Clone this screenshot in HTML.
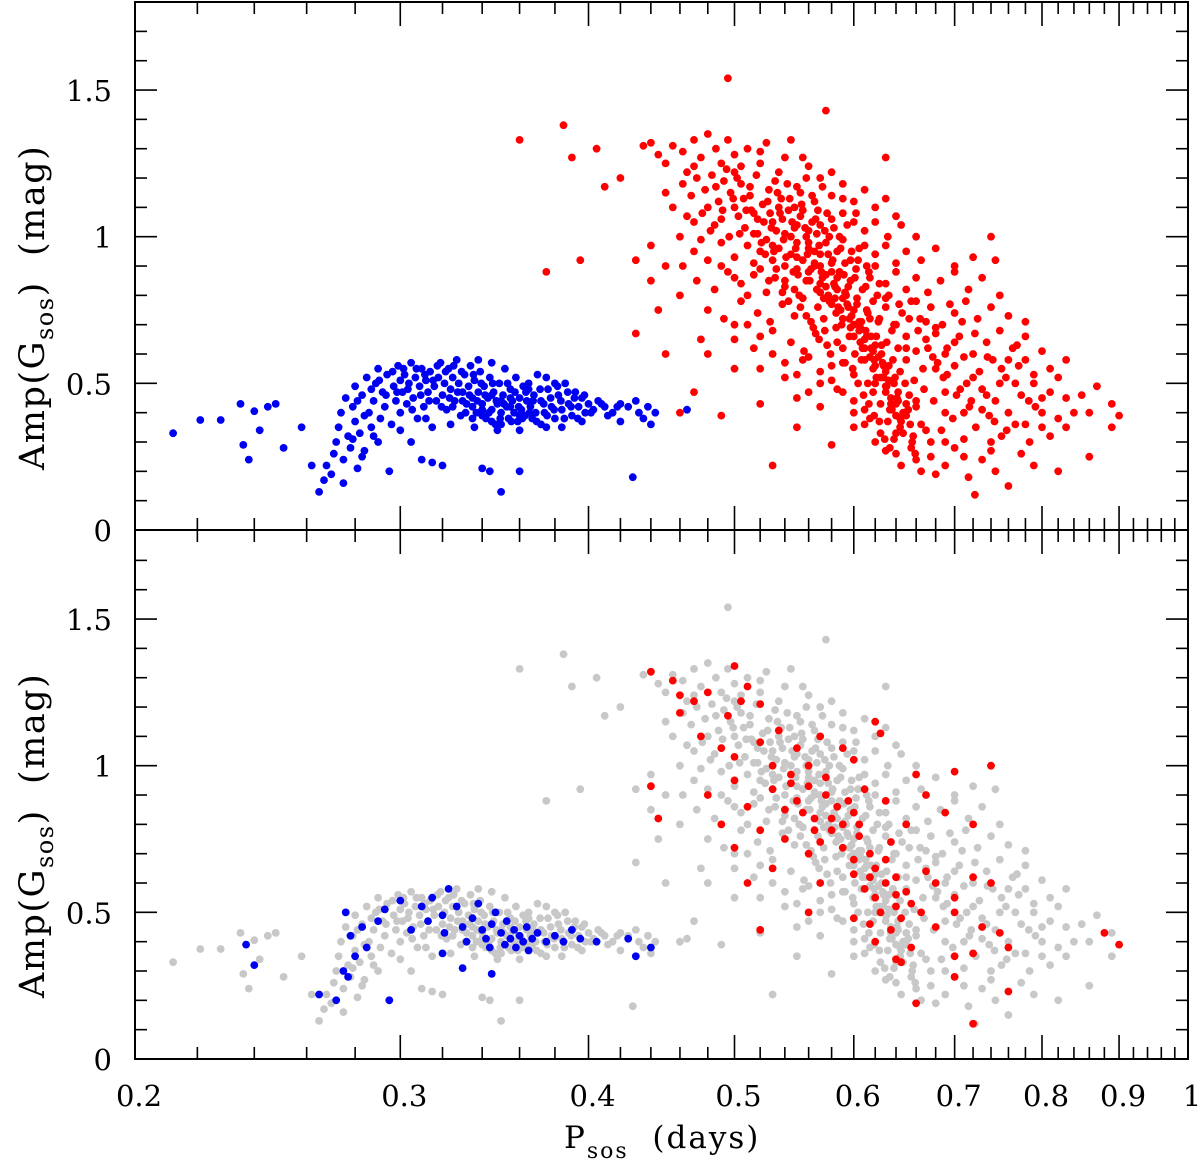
<!DOCTYPE html>
<html><head><meta charset="utf-8"><style>
html,body{margin:0;padding:0;background:#fff;}
svg{display:block;}
text{font-family:"DejaVu Serif","Liberation Serif",serif;fill:#000;}
</style></head><body>
<svg id="chart" width="1200" height="1166" viewBox="0 0 1200 1166" xmlns="http://www.w3.org/2000/svg">
<g id="top-panel"></g>
<g id="bottom-panel"></g>
<text x="564" y="1148" font-size="31" letter-spacing="2">P<tspan font-size="22" dy="10">sos</tspan><tspan dy="-10" xml:space="preserve">  (days)</tspan></text>
<text transform="translate(44,470) rotate(-90)" font-size="35" letter-spacing="1.5">Amp(G<tspan font-size="24" dy="9">sos</tspan><tspan dy="-9" xml:space="preserve">)  (mag)</tspan></text>
<text transform="translate(44,998) rotate(-90)" font-size="35" letter-spacing="1.5">Amp(G<tspan font-size="24" dy="9">sos</tspan><tspan dy="-9" xml:space="preserve">)  (mag)</tspan></text>
</svg>
<script>
const xMajorTicks = [0.2,0.3,0.4,0.5,0.6,0.7,0.8,0.9,1.0];
const xTickLabels = ["0.2","0.3","0.4","0.5","0.6","0.7","0.8","0.9","1"];
const yMajorTicks = [0,0.5,1,1.5];
const yTickLabels = ["0","0.5","1","1.5"];

const redTop = [[0.455,1.31],[0.462,1.29],[0.47,1.33],[0.475,1.27],[0.48,1.35],[0.486,1.3],[0.495,1.33],[0.5,1.28],[0.51,1.3],[0.525,1.32],[0.545,1.33],[0.555,1.27],[0.47,1.24],[0.465,1.22],[0.49,1.25],[0.505,1.24],[0.52,1.25],[0.535,1.22],[0.56,1.24],[0.58,1.22],[0.44,1.32],[0.445,1.28],[0.45,1.25],[0.435,1.31],
[0.462,1.18],[0.468,1.14],[0.472,1.2],[0.478,1.16],[0.483,1.21],[0.488,1.12],[0.492,1.19],[0.497,1.15],[0.502,1.2],[0.507,1.13],[0.512,1.17],[0.517,1.21],[0.522,1.11],[0.527,1.16],[0.532,1.19],[0.537,1.13],[0.542,1.18],[0.548,1.1],[0.553,1.15],[0.558,1.2],[0.565,1.12],[0.572,1.17],[0.58,1.14],[0.59,1.18],[0.6,1.12],[0.61,1.16],[0.62,1.1],[0.45,1.15],[0.455,1.1],[0.48,1.1],[0.5,1.1],[0.515,1.08],[0.63,1.13],[0.64,1.07],
[0.47,1.05],[0.476,1.08],[0.482,1.02],[0.49,1.06],[0.496,1.0],[0.503,1.07],[0.508,1.03],[0.513,1.09],[0.518,1.01],[0.523,1.05],[0.528,1.08],[0.533,1.02],[0.538,1.06],[0.543,1.09],[0.548,1.03],[0.553,1.07],[0.558,1.0],[0.563,1.05],[0.568,1.09],[0.574,1.02],[0.58,1.06],[0.587,1.0],[0.594,1.04],[0.602,1.08],[0.61,1.02],[0.62,1.05],[0.632,1.0],[0.645,1.04],[0.66,1.0],[0.46,1.0],[0.535,1.1],[0.545,1.0],[0.57,1.04],[0.59,1.08],
[0.47,0.95],[0.48,0.92],[0.49,0.98],[0.5,0.93],[0.51,0.97],[0.515,0.91],[0.52,0.95],[0.525,0.99],[0.53,0.92],[0.535,0.96],[0.54,0.9],[0.545,0.94],[0.55,0.98],[0.555,0.92],[0.56,0.96],[0.565,0.9],[0.57,0.94],[0.575,0.98],[0.58,0.91],[0.585,0.95],[0.59,0.99],[0.597,0.92],[0.605,0.96],[0.612,0.9],[0.62,0.94],[0.63,0.97],[0.64,0.91],[0.65,0.95],[0.665,0.92],[0.68,0.96],[0.7,0.9],[0.72,0.93],[0.745,0.92],[0.462,0.9],
[0.472,0.85],[0.485,0.82],[0.495,0.88],[0.505,0.84],[0.515,0.87],[0.525,0.81],[0.532,0.86],[0.54,0.83],[0.547,0.88],[0.552,0.8],[0.558,0.85],[0.562,0.89],[0.567,0.82],[0.572,0.86],[0.577,0.8],[0.582,0.84],[0.587,0.88],[0.592,0.81],[0.597,0.85],[0.602,0.89],[0.608,0.82],[0.615,0.86],[0.622,0.8],[0.63,0.84],[0.64,0.88],[0.65,0.82],[0.66,0.86],[0.672,0.81],[0.685,0.85],[0.7,0.88],[0.715,0.82],[0.73,0.86],[0.75,0.8],[0.57,0.84],[0.585,0.86],[0.595,0.83],
[0.48,0.75],[0.492,0.72],[0.505,0.78],[0.518,0.74],[0.528,0.71],[0.538,0.77],[0.548,0.73],[0.555,0.79],[0.562,0.71],[0.568,0.76],[0.573,0.72],[0.578,0.78],[0.584,0.74],[0.589,0.7],[0.594,0.77],[0.598,0.73],[0.603,0.79],[0.607,0.71],[0.612,0.75],[0.618,0.78],[0.624,0.72],[0.63,0.76],[0.638,0.7],[0.646,0.74],[0.655,0.78],[0.664,0.72],[0.675,0.76],[0.687,0.7],[0.7,0.74],[0.712,0.78],[0.725,0.72],[0.74,0.76],[0.76,0.73],[0.78,0.71],[0.6,0.75],[0.615,0.72],
[0.5,0.65],[0.515,0.62],[0.53,0.68],[0.545,0.64],[0.556,0.61],[0.566,0.67],[0.576,0.63],[0.584,0.69],[0.59,0.62],[0.596,0.66],[0.601,0.6],[0.606,0.64],[0.611,0.68],[0.616,0.62],[0.621,0.66],[0.626,0.6],[0.631,0.64],[0.636,0.68],[0.642,0.62],[0.65,0.66],[0.66,0.61],[0.67,0.65],[0.68,0.69],[0.692,0.62],[0.705,0.66],[0.72,0.6],[0.735,0.64],[0.75,0.68],[0.765,0.62],[0.78,0.66],[0.8,0.61],[0.61,0.65],[0.62,0.63],
[0.52,0.55],[0.54,0.52],[0.555,0.58],[0.57,0.54],[0.58,0.51],[0.59,0.57],[0.6,0.53],[0.607,0.58],[0.613,0.5],[0.618,0.55],[0.623,0.59],[0.628,0.52],[0.633,0.56],[0.638,0.5],[0.644,0.54],[0.65,0.58],[0.658,0.51],[0.667,0.55],[0.677,0.59],[0.688,0.52],[0.7,0.56],[0.713,0.5],[0.727,0.54],[0.742,0.58],[0.757,0.52],[0.772,0.56],[0.79,0.5],[0.81,0.55],[0.83,0.58],[0.82,0.52],[0.63,0.54],
[0.55,0.45],[0.57,0.42],[0.585,0.48],[0.6,0.44],[0.61,0.41],[0.618,0.47],[0.625,0.43],[0.63,0.49],[0.636,0.41],[0.641,0.45],[0.647,0.4],[0.653,0.46],[0.66,0.42],[0.668,0.48],[0.678,0.44],[0.69,0.4],[0.702,0.46],[0.716,0.42],[0.73,0.48],[0.745,0.44],[0.76,0.4],[0.775,0.46],[0.792,0.42],[0.81,0.47],[0.83,0.45],[0.85,0.46],[0.87,0.49],[0.89,0.43],[0.635,0.45],[0.64,0.43],
[0.6,0.35],[0.615,0.38],[0.625,0.33],[0.632,0.37],[0.638,0.31],[0.644,0.35],[0.65,0.39],[0.657,0.32],[0.665,0.36],[0.675,0.3],[0.686,0.34],[0.698,0.38],[0.71,0.31],[0.723,0.35],[0.738,0.39],[0.752,0.32],[0.768,0.36],[0.785,0.3],[0.8,0.35],[0.82,0.38],[0.89,0.35],[0.9,0.39],[0.64,0.33],
[0.63,0.27],[0.645,0.22],[0.655,0.28],[0.665,0.2],[0.675,0.25],[0.69,0.22],[0.7,0.28],[0.715,0.18],[0.722,0.12],[0.73,0.24],[0.745,0.2],[0.76,0.15],[0.775,0.26],[0.79,0.22],[0.82,0.2],[0.86,0.25],[0.66,0.24],[0.68,0.19],[0.74,0.27],[0.53,0.22],[0.58,0.29],
[0.36,1.33],[0.385,1.38],[0.39,1.27],[0.375,0.88],[0.395,0.92],[0.405,1.3],[0.41,1.17],[0.42,1.2],[0.43,0.92],[0.43,0.67],[0.44,0.97],[0.445,0.75],[0.44,0.85],[0.45,0.6],[0.495,1.54],[0.575,1.43],[0.63,1.27],[0.46,0.4],[0.49,0.39],[0.47,0.47],[0.74,1.0],[0.5,0.55],[0.48,0.6],[0.5,0.7],[0.475,0.65],[0.55,0.35],[0.52,0.43],[0.46,0.8],[0.45,0.9],
[0.53,1.05],[0.54,1.01],[0.55,1.04],[0.56,0.98],[0.565,0.95],[0.57,0.9],[0.575,0.87],[0.58,0.88],[0.585,0.82],[0.59,0.79],[0.595,0.76],[0.6,0.7],[0.605,0.68],[0.61,0.62],[0.615,0.59],[0.62,0.56],[0.625,0.52],[0.63,0.47],[0.635,0.43],[0.64,0.39],[0.645,0.37],[0.55,0.93],[0.56,0.88],[0.57,0.81],[0.58,0.77],[0.59,0.72],[0.6,0.66],[0.61,0.58],[0.62,0.5],[0.53,0.97],[0.54,0.85],[0.55,0.89],[0.56,1.02],[0.565,0.91],[0.575,0.83],[0.583,0.79],[0.588,0.75],[0.597,0.69],[0.605,0.71],[0.612,0.66],[0.618,0.61],[0.627,0.57],[0.633,0.51],[0.642,0.47],[0.65,0.43]];

const redTopCore = [[0.512,1.14],[0.518,1.06],[0.521,0.98],[0.526,1.12],[0.529,1.03],[0.531,0.95],[0.534,1.15],[0.536,1.08],[0.539,0.99],[0.541,0.93],[0.544,1.13],[0.546,1.05],[0.549,0.96],[0.551,0.87],[0.554,1.11],[0.557,1.03],[0.559,0.94],[0.561,0.85],[0.563,1.14],[0.566,1.06],[0.569,0.97],[0.571,0.88],[0.573,0.79],[0.576,1.08],[0.578,1.0],[0.581,0.92],[0.583,0.83],[0.586,0.76],[0.588,0.96],[0.591,0.87],[0.593,0.8],[0.596,0.72],[0.598,0.95],[0.601,0.86],[0.603,0.77],[0.606,0.69],[0.608,0.62],[0.611,0.83],[0.613,0.74],[0.616,0.66],[0.619,0.58],[0.621,0.52],[0.623,0.71],[0.626,0.63],[0.628,0.56],[0.631,0.49],[0.634,0.41],[0.637,0.58],[0.639,0.52],[0.642,0.44],[0.644,0.38],[0.647,0.33],[0.649,0.5],[0.652,0.41],[0.654,0.36],[0.656,0.3],[0.659,0.26],
[0.505,1.18],[0.509,1.09],[0.515,1.01],[0.52,0.89],[0.524,0.94],[0.527,0.85],[0.533,0.89],[0.538,0.81],[0.543,0.78],[0.548,0.82],[0.553,0.76],[0.558,0.73],[0.564,0.69],[0.569,0.65],[0.574,0.68],[0.579,0.6],[0.585,0.64],[0.592,0.57],[0.599,0.55],[0.604,0.5],[0.609,0.46],[0.614,0.43],[0.619,0.39],[0.624,0.37],[0.629,0.31],[0.634,0.28],[0.64,0.26],
[0.486,1.17],[0.491,1.09],[0.494,1.23],[0.499,1.13],[0.504,1.01],[0.55,1.17],[0.555,1.09],[0.567,1.01],[0.577,0.94],[0.582,1.03],[0.592,0.91],[0.604,0.92],[0.614,0.88],[0.624,0.84],[0.633,0.8],[0.643,0.77],[0.653,0.72],[0.662,0.68],[0.672,0.62],[0.682,0.57],[0.692,0.53],[0.706,0.48],[0.718,0.44],[0.73,0.41],[0.744,0.37],[0.758,0.34],[0.695,0.77],[0.708,0.71],[0.722,0.67],[0.736,0.59],[0.752,0.55],[0.768,0.5],[0.784,0.44],[0.8,0.4],[0.66,0.78],[0.67,0.71],[0.68,0.67],[0.69,0.6],[0.71,0.59],[0.7,0.64],[0.68,0.55],[0.69,0.47],[0.71,0.4],[0.72,0.52],[0.735,0.46],[0.75,0.5],[0.76,0.58],[0.77,0.63],[0.78,0.58],[0.79,0.53],[0.8,0.45],[0.81,0.32],[0.83,0.35],[0.84,0.4],[0.86,0.4],[0.78,0.36],[0.74,0.3],[0.71,0.25],[0.69,0.3],[0.67,0.34],[0.66,0.44],[0.65,0.62],[0.64,0.7],[0.63,0.79],[0.62,0.9],[0.61,0.97],[0.6,1.05],[0.59,1.13],[0.57,1.2],[0.54,1.27],[0.52,1.29],[0.5,1.22],[0.485,1.04],[0.475,0.99],[0.465,1.07],[0.49,0.9],[0.5,0.86],[0.51,0.8],[0.51,0.7],[0.52,0.66],[0.53,0.6],[0.54,0.57],[0.55,0.53],[0.56,0.59],[0.56,0.47],[0.57,0.5],[0.58,0.56],[0.59,0.47],[0.6,0.4],[0.61,0.36],[0.62,0.3]];

const blueTop = [[0.212,0.33],[0.221,0.375],[0.228,0.375],[0.235,0.43],[0.236,0.29],[0.238,0.24],[0.24,0.405],[0.242,0.34],[0.245,0.42],[0.248,0.43],[0.251,0.28],[0.258,0.35],[0.262,0.22],
[0.265,0.13],[0.267,0.17],[0.268,0.22],[0.27,0.19],[0.271,0.26],[0.272,0.3],[0.273,0.35],[0.274,0.4],[0.275,0.24],[0.276,0.45],[0.277,0.32],[0.278,0.28],[0.279,0.42],[0.28,0.49],[0.28,0.37],[0.281,0.21],[0.282,0.33],[0.283,0.46],[0.284,0.27],[0.285,0.52],[0.286,0.4],[0.287,0.35],[0.288,0.44],[0.289,0.5],[0.29,0.3],[0.29,0.55],[0.291,0.38],[0.292,0.47],[0.293,0.42],[0.294,0.53],[0.295,0.2],[0.296,0.36],[0.297,0.49],[0.298,0.44],[0.299,0.56],[0.3,0.51],[0.3,0.4],
[0.301,0.47],[0.302,0.53],[0.303,0.43],[0.304,0.5],[0.305,0.57],[0.306,0.45],[0.307,0.52],[0.308,0.38],[0.309,0.49],[0.31,0.55],[0.311,0.42],[0.312,0.51],[0.313,0.47],[0.314,0.54],[0.315,0.35],[0.316,0.49],[0.317,0.44],[0.318,0.52],[0.319,0.57],[0.32,0.46],[0.321,0.5],[0.322,0.41],[0.323,0.55],[0.324,0.48],[0.325,0.52],[0.326,0.44],[0.327,0.58],[0.328,0.5],[0.329,0.39],[0.33,0.47],[0.31,0.24],[0.315,0.23],[0.32,0.22],[0.305,0.3],
[0.331,0.53],[0.332,0.43],[0.333,0.49],[0.334,0.56],[0.335,0.45],[0.336,0.51],[0.337,0.4],[0.338,0.47],[0.339,0.54],[0.34,0.43],[0.341,0.49],[0.342,0.38],[0.343,0.45],[0.344,0.52],[0.345,0.41],[0.346,0.47],[0.347,0.36],[0.348,0.43],[0.349,0.5],[0.35,0.4],[0.351,0.46],[0.352,0.55],[0.353,0.42],[0.354,0.38],[0.355,0.48],[0.356,0.44],[0.357,0.4],[0.358,0.52],[0.359,0.37],[0.36,0.45],[0.361,0.41],[0.362,0.49],[0.363,0.39],[0.364,0.44],[0.365,0.5],[0.366,0.42],[0.367,0.38],[0.368,0.46],[0.369,0.4],[0.37,0.53],[0.34,0.39],[0.345,0.37],[0.35,0.36],[0.355,0.42],[0.36,0.39],[0.35,0.44],[0.345,0.46],[0.34,0.41],[0.335,0.42],[0.33,0.44],[0.344,0.2],[0.35,0.13],[0.34,0.21],[0.36,0.2],[0.338,0.58],[0.345,0.57],
[0.372,0.44],[0.374,0.4],[0.376,0.48],[0.378,0.42],[0.38,0.38],[0.382,0.46],[0.384,0.41],[0.386,0.5],[0.388,0.43],[0.39,0.39],[0.392,0.47],[0.394,0.42],[0.396,0.45],[0.398,0.4],[0.4,0.43],[0.403,0.41],[0.406,0.44],[0.41,0.42],[0.415,0.4],[0.42,0.43],[0.425,0.42],[0.43,0.44],[0.432,0.4],[0.435,0.38],[0.438,0.42],[0.44,0.36],[0.443,0.4],[0.42,0.37],[0.428,0.18],[0.465,0.41],[0.375,0.52],[0.38,0.5]];

const blueTopCore = [[0.2905,0.51],[0.2935,0.46],[0.2965,0.54],[0.2985,0.47],[0.3015,0.55],[0.3035,0.48],[0.3055,0.41],[0.3075,0.55],[0.3095,0.46],[0.3115,0.53],[0.3135,0.44],[0.3155,0.51],[0.3175,0.56],[0.3195,0.42],[0.3215,0.54],[0.3235,0.45],[0.3255,0.56],[0.3275,0.47],[0.3295,0.54],[0.3315,0.4],[0.3335,0.46],[0.3355,0.53],[0.3375,0.44],[0.3395,0.5],[0.3415,0.46],[0.3435,0.4],[0.3455,0.5],[0.3475,0.44],[0.3495,0.38],[0.3515,0.43],[0.3535,0.5],[0.3555,0.37],[0.3575,0.47],[0.3595,0.42],[0.3615,0.38],[0.3635,0.47],[0.3655,0.4],[0.3675,0.44],[0.3695,0.37],[0.3715,0.48],[0.3735,0.43],[0.3755,0.39],[0.3775,0.45],[0.3795,0.41],[0.3815,0.49],[0.3835,0.44],[0.3855,0.38],[0.3875,0.47],[0.3895,0.42],[0.3915,0.45],[0.3935,0.38],[0.3975,0.46],[0.4015,0.4],[0.408,0.43],[0.412,0.39],[0.418,0.42],[0.281,0.44],[0.284,0.39],[0.287,0.48],[0.279,0.31],[0.283,0.25],[0.275,0.16],[0.288,0.32],[0.3,0.34],[0.312,0.38],[0.324,0.36],[0.336,0.35],[0.348,0.34],[0.36,0.34],[0.372,0.36],[0.384,0.35],[0.396,0.37],[0.325,0.42],[0.335,0.38],[0.355,0.45],[0.365,0.48],[0.375,0.35]];

const redBottom = [[0.44,1.32],[0.455,1.29],[0.46,1.24],[0.47,1.22],[0.48,1.25],[0.5,1.34],[0.505,1.22],[0.51,1.27],[0.495,1.17],[0.52,1.21],[0.46,1.18],[0.475,1.1],[0.49,1.06],[0.5,1.03],[0.52,1.08],[0.53,1.0],[0.535,1.12],[0.55,1.06],[0.56,1.0],[0.57,1.1],[0.59,1.06],[0.62,1.15],[0.625,1.11],[0.6,1.02],[0.575,0.96],[0.56,0.93],[0.545,0.97],[0.53,0.92],[0.5,0.95],[0.48,0.9],[0.44,0.93],[0.445,0.82],[0.49,0.8],[0.51,0.86],[0.54,0.85],[0.55,0.88],[0.565,0.82],[0.575,0.9],[0.585,0.86],[0.59,0.8],[0.6,0.84],[0.61,0.92],[0.63,0.88],[0.66,0.97],[0.67,0.9],[0.7,0.98],[0.74,1.0],[0.5,0.72],[0.52,0.78],[0.54,0.75],[0.56,0.7],[0.57,0.74],[0.58,0.78],[0.59,0.72],[0.6,0.68],[0.605,0.76],[0.615,0.7],[0.62,0.65],[0.635,0.74],[0.65,0.8],[0.69,0.84],[0.72,0.8],[0.51,0.6],[0.53,0.65],[0.57,0.6],[0.6,0.63],[0.61,0.58],[0.62,0.55],[0.63,0.6],[0.64,0.52],[0.65,0.57],[0.67,0.64],[0.68,0.6],[0.7,0.55],[0.72,0.62],[0.74,0.6],[0.52,0.44],[0.56,0.5],[0.6,0.48],[0.615,0.46],[0.625,0.5],[0.635,0.44],[0.64,0.56],[0.645,0.48],[0.655,0.53],[0.665,0.5],[0.68,0.45],[0.7,0.5],[0.73,0.45],[0.75,0.43],[0.76,0.38],[0.62,0.4],[0.64,0.34],[0.645,0.33],[0.655,0.38],[0.66,0.19],[0.7,0.35],[0.72,0.36],[0.76,0.23],[0.72,0.12],[0.88,0.43],[0.9,0.39],[0.7,0.28],[0.58,0.82],[0.595,0.88],[0.605,0.8],[0.63,0.68],[0.565,0.78],[0.555,0.84],[0.545,0.94],[0.615,0.62],[0.64,0.62]];

const blueBottom = [[0.237,0.39],[0.24,0.32],[0.265,0.22],[0.272,0.2],[0.277,0.28],[0.275,0.3],[0.28,0.35],[0.278,0.42],[0.276,0.5],[0.285,0.38],[0.283,0.45],[0.29,0.47],[0.295,0.2],[0.293,0.51],[0.3,0.54],[0.305,0.44],[0.31,0.52],[0.313,0.47],[0.315,0.55],[0.32,0.49],[0.321,0.43],[0.323,0.58],[0.327,0.52],[0.33,0.45],[0.332,0.4],[0.335,0.48],[0.338,0.53],[0.34,0.44],[0.342,0.41],[0.344,0.38],[0.345,0.46],[0.347,0.5],[0.35,0.43],[0.352,0.39],[0.353,0.47],[0.355,0.41],[0.357,0.44],[0.358,0.38],[0.36,0.42],[0.362,0.4],[0.364,0.45],[0.365,0.37],[0.367,0.41],[0.37,0.43],[0.375,0.4],[0.38,0.42],[0.385,0.4],[0.39,0.44],[0.395,0.41],[0.405,0.4],[0.425,0.41],[0.43,0.35],[0.44,0.38],[0.33,0.31],[0.345,0.29],[0.32,0.36]];

const NS = "http://www.w3.org/2000/svg";
const X0 = 135, X1 = 1188;
function xScale(p){ return X0 + (X1 - X0) * Math.log10(p / 0.2) / Math.log10(5); }
function makeY(bottom){ return a => bottom - a * 293.3; }

function el(tag, attrs, parent){
  const e = document.createElementNS(NS, tag);
  for (const k in attrs) e.setAttribute(k, attrs[k]);
  parent.appendChild(e);
  return e;
}

function drawPanel(g, top, bottom, isBottom, layers){
  const yScale = makeY(bottom);
  for (const L of layers){
    const lg = el('g', {}, g);
    
    
    for (const pt of L.data){
      const c = el('circle', {cx: xScale(pt[0]).toFixed(1), cy: yScale(pt[1]).toFixed(1), r: 3.9, fill: L.color}, lg);
      
      
    }
  }
  const fr = el('rect', {x: X0, y: top, width: X1 - X0, height: bottom - top, fill: 'none', stroke: '#000', 'stroke-width': 2}, g);
  
  
  for (let i = 0; i <= 17; i++){
    const a = i / 10, y = yScale(a);
    const major = (i % 5 === 0);
    const len = major ? 22 : 12;
    const t1 = el('line', {x1: X0, x2: X0 + len, y1: y, y2: y, stroke: '#000', 'stroke-width': 1.6}, g);
    
    
    const t2 = el('line', {x1: X1, x2: X1 - len, y1: y, y2: y, stroke: '#000', 'stroke-width': 1.6}, g);
    
    
  }
  yMajorTicks.forEach((a, i) => {
    const t = el('text', {x: 112, y: yScale(a) + 11, 'font-size': 29, 'text-anchor': 'end'}, g);
    t.textContent = yTickLabels[i];
    
    
  });
  const minors = [];
  for (let p = 0.22; p < 0.995; p += 0.02) minors.push(Math.round(p * 100) / 100);
  const allTicks = minors.map(p => [p, false]).concat(xMajorTicks.map(p => [p, true]));
  for (const [p, major] of allTicks){
    if (!major && xMajorTicks.some(m => Math.abs(m - p) < 1e-6)) continue;
    const x = xScale(p), len = major ? 24 : 12;
    const b = el('line', {x1: x, x2: x, y1: bottom, y2: bottom - len, stroke: '#000', 'stroke-width': 1.6}, g);
    
    
    const tt = el('line', {x1: x, x2: x, y1: top, y2: top + len, stroke: '#000', 'stroke-width': 1.6}, g);
    
    
  }
  if (isBottom){
    xMajorTicks.forEach((p, i) => {
      const t = el('text', {x: xScale(p) + 4, y: bottom + 47, 'font-size': 29, 'text-anchor': 'middle'}, g);
      t.textContent = xTickLabels[i];
      
      
    });
  }
}

drawPanel(document.getElementById('top-panel'), 2, 530, false, [
  {name: 'blue-series-top', pointName: 'blue-point', data: blueTop.concat(blueTopCore), color: '#0000f0'},
  {name: 'red-series-top', pointName: 'red-point', data: redTop.concat(redTopCore), color: '#ff0000'}
]);
drawPanel(document.getElementById('bottom-panel'), 530, 1059, true, [
  {name: 'grey-background-series', pointName: 'grey-point', data: blueTop.concat(blueTopCore, redTop, redTopCore), color: '#c8c8c8'},
  {name: 'blue-series-bottom', pointName: 'blue-point', data: blueBottom, color: '#0000f0'},
  {name: 'red-series-bottom', pointName: 'red-point', data: redBottom, color: '#ff0000'}
]);
</script>
</body></html>
